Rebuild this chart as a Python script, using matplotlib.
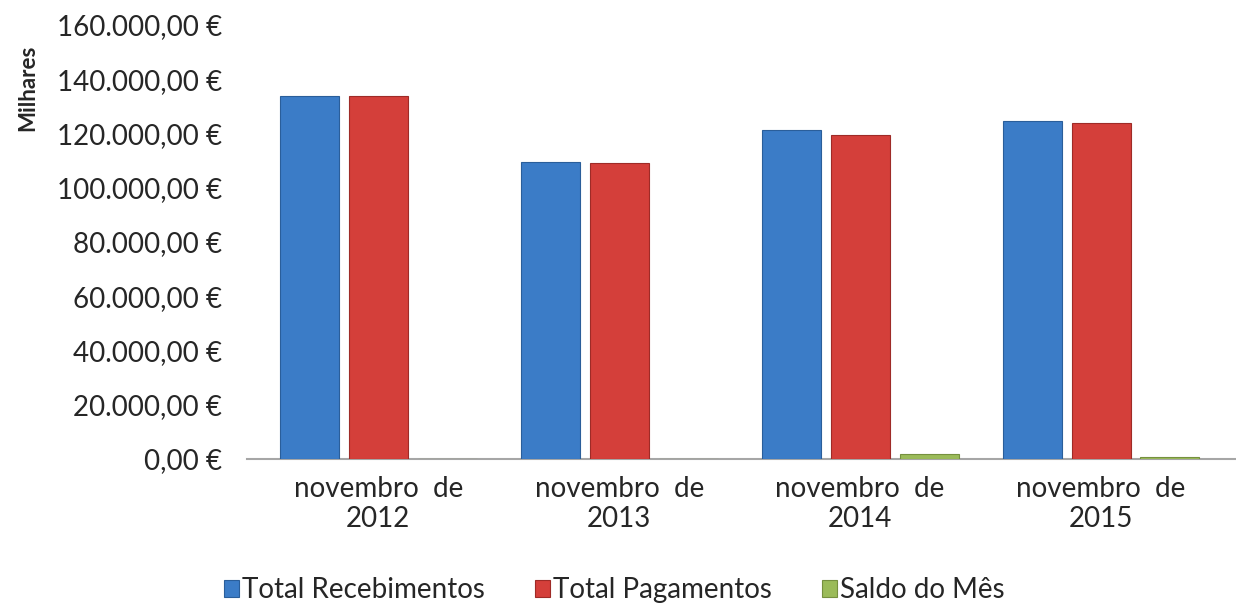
import numpy as np
import matplotlib
matplotlib.use('Agg')
import matplotlib.pyplot as plt
from matplotlib.ticker import FuncFormatter

# ── data (values in thousands of euros) ──────────────────────────────────────
periods      = ['novembro  de\n2012', 'novembro  de\n2013',
                'novembro  de\n2014', 'novembro  de\n2015']
recebimentos = [133800, 109400, 121200, 124600]
pagamentos   = [133700, 109300, 119300, 123800]
saldo        = [100, 100, 1900, 800]
series_names = ['Total Recebimentos', 'Total Pagamentos', 'Saldo do Mês']

COLORS = ['#3B7CC7', '#D43F3A', '#9BBB59']
EDGES  = ['#2A5E9A', '#9E2B27', '#76903F']
TXT    = '#262626'

plt.rcParams['font.family'] = ['Lato', 'DejaVu Sans']

fig = plt.figure(figsize=(12.36, 6.06), dpi=100, facecolor='white')
ax = fig.add_axes([0.2, 0.2426, 0.8, 0.7161])

x = np.arange(len(periods))
W, OFF = 0.245, 0.286
handles = []
for k, vals in enumerate([recebimentos, pagamentos, saldo]):
    h = ax.bar(x + (k - 1) * OFF, vals, width=W, color=COLORS[k],
               edgecolor=EDGES[k], linewidth=0.8, label=series_names[k], zorder=3)
    handles.append(h)

ax.set_xlim(-0.544, 3.56)
ax.set_ylim(0, 160000)
ax.set_yticks(np.arange(0, 160001, 20000))

def euro(v, _):
    s = f'{v:,.2f}'.replace(',', 'X').replace('.', ',').replace('X', '.')
    return s + ' €'

ax.yaxis.set_major_formatter(FuncFormatter(euro))
ax.set_xticks(x)
ax.set_xticklabels(periods, fontsize=20, color=TXT, linespacing=1.2)
ax.tick_params(axis='y', length=0, labelsize=20, labelcolor=TXT, pad=18)
ax.tick_params(axis='x', length=0, pad=12)

for s in ('top', 'right', 'left'):
    ax.spines[s].set_visible(False)
ax.spines['bottom'].set_color('#A6A6A6')
ax.spines['bottom'].set_linewidth(1.5)

fig.text(0.0226, 0.855, 'Milhares', rotation=90, ha='center', va='center',
         fontsize=16, fontweight='bold', color=TXT)

fig.legend(handles=handles, labels=series_names, loc='center',
           bbox_to_anchor=(0.497, 0.026), ncol=3, frameon=False,
           fontsize=20, handlelength=0.55, handleheight=0.55, handletextpad=0.1,
           columnspacing=1.8, labelcolor=TXT)

fig.savefig('out.png', dpi=100, facecolor='white')
